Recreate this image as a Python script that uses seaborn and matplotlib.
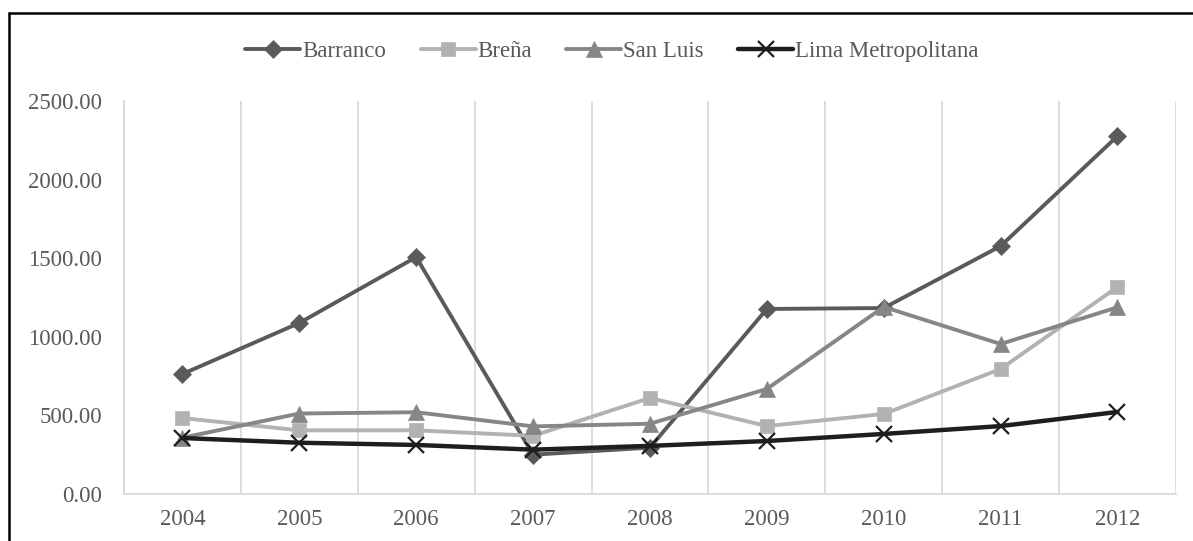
import matplotlib
matplotlib.use("Agg")
import matplotlib.pyplot as plt
from matplotlib.lines import Line2D
from matplotlib.ticker import FixedLocator, FuncFormatter
import seaborn as sns
import pandas as pd

years = ["2004", "2005", "2006", "2007", "2008", "2009", "2010", "2011", "2012"]
barranco = [763, 1088, 1507, 250, 295, 1177, 1183, 1577, 2277]
brena = [483, 405, 405, 370, 611, 432, 509, 795, 1317]
san_luis = [358, 512, 520, 430, 447, 668, 1190, 954, 1188]
lima_metro = [356, 326, 312, 282, 306, 337, 382, 432, 522]

series_names = ["Barranco", "Breña", "San Luis", "Lima Metropolitana"]
series_values = [barranco, brena, san_luis, lima_metro]
y_ticks = [0, 500, 1000, 1500, 2000, 2500]

colors = ["#5a5a5a", "#b2b2b2", "#868686", "#1e1e1e"]
markers = ["D", "s", "^", "x"]
msizes = [9, 10, 11, 11]
lwidths = [2.8, 2.8, 2.8, 3.2]

sns.set_theme(style="white")
plt.rcParams["font.family"] = ["Liberation Serif", "DejaVu Serif"]

frames = []
for name, vals in zip(series_names, series_values):
    frames.append(pd.DataFrame({"year": years, "value": vals, "serie": name}))
df = pd.concat(frames, ignore_index=True)

fig = plt.figure(figsize=(11.93, 5.41), dpi=100)
ax = fig.add_axes([0.1039, 0.0869, 0.8818, 0.7264])

for name, c, m, ms, lw in zip(series_names, colors, markers, msizes, lwidths):
    sub = df[df["serie"] == name]
    sns.lineplot(data=sub, x="year", y="value", ax=ax, color=c, marker=m,
                 markersize=ms, linewidth=lw, markeredgecolor=c,
                 markeredgewidth=1.6 if m == "x" else 0.5,
                 label=name, sort=False, zorder=3)

ax.set_xlim(-0.5, len(years) - 0.5)
ax.set_ylim(0, 2500)
ax.yaxis.set_major_locator(FixedLocator(y_ticks))
ax.yaxis.set_major_formatter(FuncFormatter(lambda v, p: f"{v:.2f}"))
ax.set_xlabel("")
ax.set_ylabel("")

# vertical separators between year bands
ax.xaxis.set_minor_locator(FixedLocator([i - 0.5 for i in range(len(years) + 1)]))
ax.grid(False)
ax.grid(which="minor", axis="x", color="#d9d9d9", linewidth=1.3)
ax.tick_params(which="both", length=0)
ax.tick_params(axis="y", labelsize=16.5, labelcolor="#595959", pad=16)
ax.tick_params(axis="x", labelsize=16.5, labelcolor="#595959", pad=11)

for side in ["top", "right"]:
    ax.spines[side].set_visible(False)
for side in ["left", "bottom"]:
    ax.spines[side].set_color("#d9d9d9")
    ax.spines[side].set_linewidth(1.3)

ax.legend_.remove()
handles = [Line2D([0], [0], color=c, marker=m, markersize=ms, linewidth=lw,
                  markeredgecolor=c, markeredgewidth=1.6 if m == "x" else 0.5)
           for c, m, ms, lw in zip(colors, markers, msizes, lwidths)]
leg = fig.legend(handles, series_names, loc="center", bbox_to_anchor=(0.513, 0.904),
                 ncol=4, frameon=False, fontsize=16.5, handlelength=2.4,
                 handletextpad=0.08, columnspacing=1.5)
for t in leg.get_texts():
    t.set_color("#595959")

# outer frame (left and top edges)
fig.add_artist(Line2D([0.0075, 0.0075], [0.0, 0.976], transform=fig.transFigure,
                      color="black", linewidth=1.8))
fig.add_artist(Line2D([0.0075, 1.0], [0.976, 0.976], transform=fig.transFigure,
                      color="black", linewidth=1.8))

fig.savefig("out.png", dpi=100)
